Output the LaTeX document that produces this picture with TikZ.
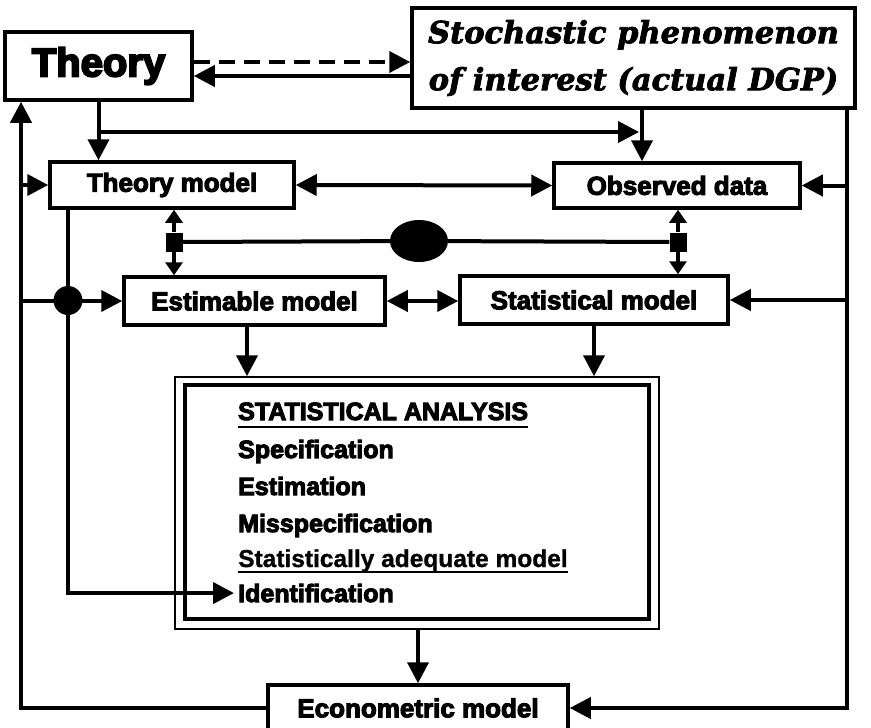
\documentclass[tikz,border=0pt]{standalone}
\usepackage{fontspec}
\setmainfont{Liberation Sans}
\newfontfamily\boxfont[FakeBold=4]{Liberation Sans}
\newfontfamily\plainfont[FakeBold=1]{Liberation Sans}
\newfontfamily\heavyfont[FakeBold=5]{Liberation Sans}
\newfontfamily\stochfont[FakeBold=2.5]{DejaVu Serif}
\usetikzlibrary{arrows.meta,shapes.geometric}
\begin{document}
\begin{tikzpicture}[x=1pt,y=-1pt,
  box/.style={draw, line width=3.5pt, inner sep=0pt, font=\boxfont\bfseries\fontsize{26}{30}\selectfont},
  conn/.style={line width=4pt},
  arr/.style={conn, -{Triangle[length=21pt,width=21pt]}},
  arrs/.style={conn, -{Triangle[length=13pt,width=17pt]}},
  arrb/.style={conn, {Triangle[length=21pt,width=21pt]}-{Triangle[length=21pt,width=21pt]}},
  satext/.style={anchor=base west, inner sep=0pt, font=\boxfont\bfseries\fontsize{25}{30}\selectfont},
  uline/.style={line width=2.2pt},
  junc/.style={fill, inner sep=0pt, minimum width=17pt, minimum height=19pt}]
\fill[white] (0,0) rectangle (871,728);
\useasboundingbox (0,0) rectangle (871,728);
% boxes
\node[box, minimum width=187pt, minimum height=68pt, font=\heavyfont\bfseries\fontsize{40}{44}\selectfont] (theory) at (98.5,66) {Theory};
\node[box, minimum width=443pt, minimum height=100pt, align=center,
  font=\stochfont\bfseries\itshape\fontsize{30.5}{47}\selectfont] (stoch) at (633.5,58) {Stochastic phenomenon\\of interest (actual DGP)};
\node[box, minimum width=244pt, minimum height=46pt] (tmodel) at (172,185) {Theory model};
\node[box, minimum width=246pt, minimum height=45pt] (obs) at (677,185.5) {Observed data};
\node[box, minimum width=261pt, minimum height=48pt] (est) at (254.5,301) {Estimable model};
\node[box, minimum width=268pt, minimum height=48pt] (stat) at (594,300) {Statistical model};
\node[box, minimum width=300pt, minimum height=46pt] (econ) at (418,708) {Econometric model};
% statistical analysis frame
\node[draw, line width=1.5pt, minimum width=484pt, minimum height=252pt, inner sep=0pt] (outer) at (417,503) {};
\node[draw, line width=4pt, minimum width=464pt, minimum height=234pt, inner sep=0pt] (inner) at (417,502) {};
\node[satext] (sa1) at (238,420) {STATISTICAL ANALYSIS};
\node[satext] (sa2) at (238,458) {Specification};
\node[satext] (sa3) at (238,495) {Estimation};
\node[satext] (sa4) at (238,532) {Misspecification};
\node[satext, font=\plainfont\bfseries\fontsize{24.5}{30}\selectfont] (sa5) at (238,567) {Statistically adequate model};
\node[satext] (sa6) at (238,602) {Identification};
\draw[uline] ([yshift=-7pt]sa1.base west) -- ([yshift=-7pt]sa1.base east);
\draw[uline] ([yshift=-5pt]sa5.base west) -- ([yshift=-5pt]sa5.base east);
% junctions
\node[junc] (sq1) at (174,242) {};
\node[junc] (sq2) at (678,242) {};
\node[ellipse, fill, minimum width=58pt, minimum height=42pt, inner sep=0pt] (ell) at (419,241) {};
\node[circle, fill, minimum size=29pt, inner sep=0pt] (dot) at (68,300.5) {};
\coordinate (L) at (21,0);
\coordinate (R) at (847,0);
\coordinate (M) at (68,0);
\coordinate (J) at (642,132);
% connectors
\draw[arr, dash pattern=on 16pt off 9pt] (theory.east |- 0,62) -- (stoch.west |- 0,62);
\draw[arr] (stoch.west |- 0,76) -- (theory.east |- 0,76);
\draw[arr] (theory.south) -- (theory.south |- tmodel.north);
\draw[arr] (theory.south |- J) -- ([xshift=-3pt]J);
\draw[arr] (stoch.south -| J) -- (obs.north -| J);
\draw[arrb] (tmodel.east) -- (obs.west);
\draw[arr] (R |- stoch.south) |- (econ.east);
\draw[arr] (R |- obs) -- (obs.east);
\draw[arr] (R |- stat) -- (stat.east);
\draw[arr] (econ.west) -| (L |- theory.south);
\draw[arr] (L |- tmodel) -- (tmodel.west);
\draw[arr] (L |- est) -- (est.west);
\draw[arr] (M |- tmodel.south) |- ([xshift=-4pt]sa6.west);
\draw[arrs] (sq1.north) -- (sq1 |- tmodel.south);
\draw[arrs] (sq1.south) -- (sq1 |- est.north);
\draw[arrs] (sq2.north) -- (sq2 |- obs.south);
\draw[arrs] (sq2.south) -- (sq2 |- stat.north);
\draw[conn] (sq1.east) -- (ell) -- (sq2.west);
\draw[arrb] (est.east) -- (stat.west |- est.east);
\draw[arr] (est.south -| 247,0) -- (outer.north -| 247,0);
\draw[arr] (stat.south) -- (stat.south |- outer.north);
\draw[arr] (outer.south -| econ.north) -- (econ.north);
\end{tikzpicture}
\end{document}
